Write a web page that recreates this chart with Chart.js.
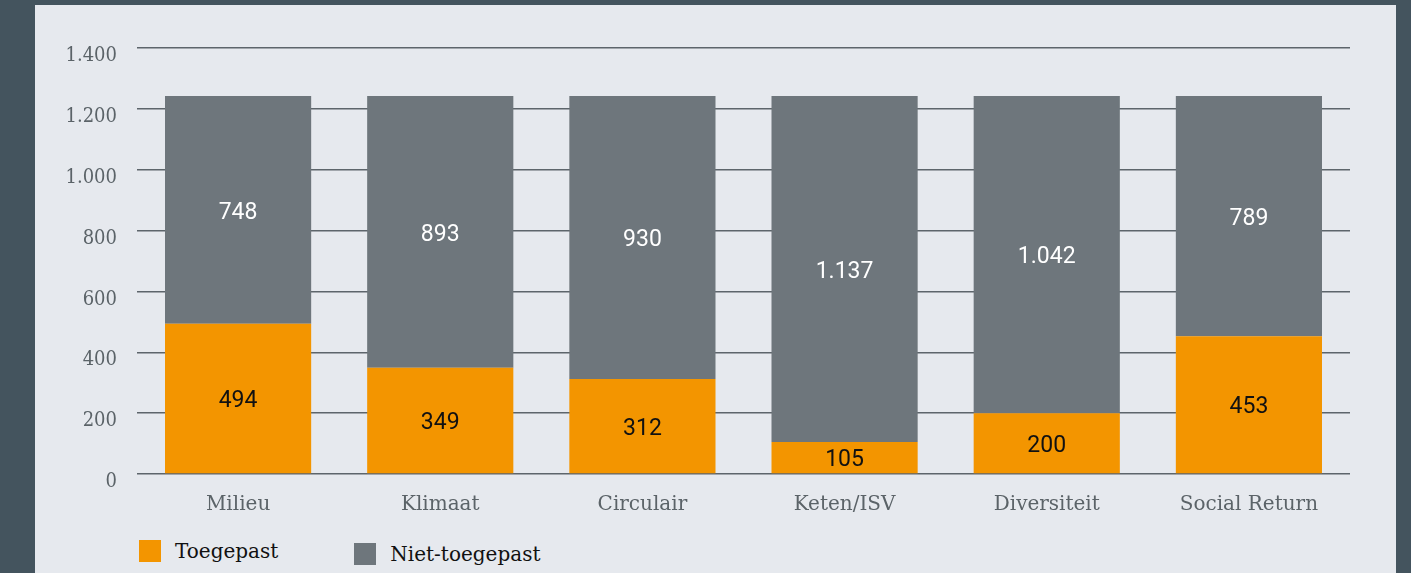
<!DOCTYPE html>
<html>
<head>
<meta charset="utf-8">
<script src="https://cdn.jsdelivr.net/npm/chart.js@4.4.1/dist/chart.umd.min.js"></script>
<style>
  html, body { margin: 0; padding: 0; }
  body { width: 1411px; height: 573px; background: #44545e; position: relative; overflow: hidden; }
  #panel { position: absolute; left: 35px; top: 5px; width: 1361px; height: 568px; background: #e6e9ee; }
  #wrap { position: absolute; left: 0; top: 0; width: 1361px; height: 531px; }
  #legend { position: absolute; left: 104px; top: 534px; display: flex; align-items: flex-start;
            font-family: "DejaVu Serif", serif; font-size: 20px; color: #111; }
  .item { display: flex; align-items: center; }
  .box { width: 22px; height: 22px; margin-right: 14px; }
</style>
</head>
<body>
<div id="panel">
  <div id="wrap"><canvas id="chart"></canvas></div>
  <div id="legend"></div>
</div>
<script>
// categories and values
const categories = ['Milieu', 'Klimaat', 'Circulair', 'Keten/ISV', 'Diversiteit', 'Social Return'];
const toegepast = [494, 349, 312, 105, 200, 453];
const nietToegepast = [748, 893, 930, 1137, 1042, 789];
const seriesNames = ['Toegepast', 'Niet-toegepast'];
const seriesColors = ['#f39500', '#6e767c'];
const labelColors = ['#111111', '#ffffff'];

// Dutch number format: 1.400
function nl(v) {
    return String(v).replace(/\B(?=(\d{3})+(?!\d))/g, '.');
}

// draw the values in the middle of each segment
const segmentLabels = {
    id: 'segmentLabels',
    afterDatasetsDraw(chart) {
        const ctx = chart.ctx;
        ctx.save();
        ctx.font = '23px Roboto, "Liberation Sans", sans-serif';
        ctx.textAlign = 'center';
        ctx.textBaseline = 'middle';
        chart.data.datasets.forEach((ds, i) => {
            const meta = chart.getDatasetMeta(i);
            ctx.fillStyle = labelColors[i];
            meta.data.forEach((bar, j) => {
                const y = (bar.y + bar.base) / 2 + 3;
                ctx.fillText(nl(ds.data[j]), bar.x, y);
            });
        });
        ctx.restore();
    }
};

new Chart(document.getElementById('chart'), {
    type: 'bar',
    data: {
        labels: categories,
        datasets: [
            { label: seriesNames[0], data: toegepast, backgroundColor: seriesColors[0] },
            { label: seriesNames[1], data: nietToegepast, backgroundColor: seriesColors[1] }
        ]
    },
    options: {
        responsive: true,
        maintainAspectRatio: false,
        animation: false,
        layout: { padding: { left: 24, right: 46, top: 43, bottom: 0 } },
        datasets: { bar: { barPercentage: 0.723, categoryPercentage: 1, borderWidth: 0 } },
        plugins: {
            legend: { display: false },
            tooltip: { enabled: false }
        },
        scales: {
            x: {
                stacked: true,
                grid: { display: false, drawTicks: false },
                border: { display: false },
                ticks: {
                    color: '#5b6368',
                    padding: 19,
                    font: { family: '"DejaVu Serif", serif', size: 20 }
                }
            },
            y: {
                stacked: true,
                min: 0,
                max: 1400,
                afterFit(scale) { scale.width = 78; },
                grid: { color: '#5d656b', lineWidth: 1.5, drawTicks: false },
                border: { display: false },
                ticks: {
                    stepSize: 200,
                    color: '#5b6368',
                    padding: 20,
                    labelOffset: 8,
                    font: { family: '"DejaVu Serif Condensed", "DejaVu Serif", serif', size: 20 },
                    callback: v => nl(v)
                }
            }
        }
    },
    plugins: [segmentLabels]
});

// legend built from the series arrays
const legend = document.getElementById('legend');
seriesNames.forEach((name, i) => {
    const item = document.createElement('div');
    item.className = 'item';
    item.style.marginRight = i === 0 ? '76px' : '0';
    item.style.marginTop = i === 0 ? '0' : '3px';
    const box = document.createElement('span');
    box.className = 'box';
    box.style.background = seriesColors[i];
    const text = document.createElement('span');
    text.textContent = name;
    item.appendChild(box);
    item.appendChild(text);
    legend.appendChild(item);
});
</script>
</body>
</html>
